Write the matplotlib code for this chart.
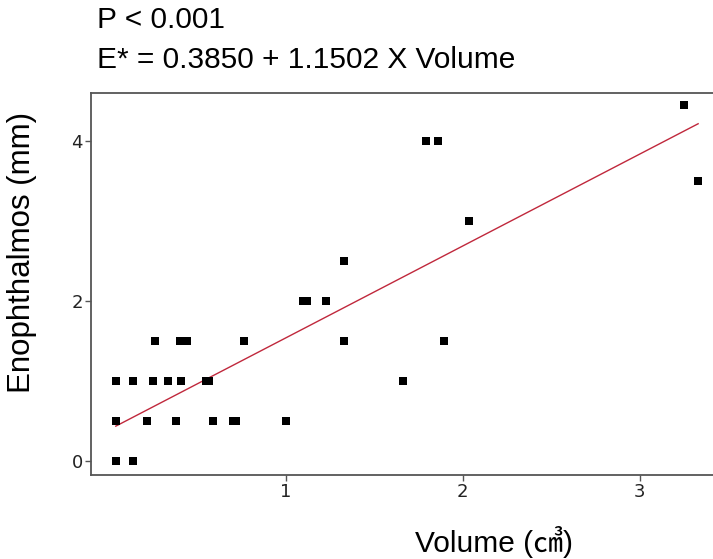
import matplotlib
matplotlib.use("Agg")
import matplotlib.pyplot as plt
import numpy as np

# volume (cm3) vs enophthalmos (mm)
volume = [0.04, 0.135,
          0.04, 0.215, 0.38, 0.59, 0.70, 0.72, 1.0,
          0.04, 0.14, 0.25, 0.335, 0.41, 0.55, 0.565, 1.66,
          0.26, 0.40, 0.445, 0.765, 1.33, 1.895,
          1.10, 1.12, 1.225,
          1.33,
          2.035,
          3.33,
          1.79, 1.86,
          3.25]
enophthalmos = [0, 0,
                0.5, 0.5, 0.5, 0.5, 0.5, 0.5, 0.5,
                1, 1, 1, 1, 1, 1, 1, 1,
                1.5, 1.5, 1.5, 1.5, 1.5, 1.5,
                2, 2, 2,
                2.5,
                3,
                3.5,
                4, 4,
                4.45]

intercept = 0.3850
slope = 1.1502
xticks = [1, 2, 3]
yticks = [0, 2, 4]

fig = plt.figure(figsize=(7.13, 5.59), dpi=100)
ax = fig.add_axes([91/713, 1-475/559, 1-91/713, (475-93)/559])

ax.scatter(volume, enophthalmos, marker="s", s=34, color="black", linewidths=0, zorder=3)
fit_x = np.array([min(volume), max(volume)])
ax.plot(fit_x, intercept + slope*fit_x, color="#c0283c", lw=1.0, zorder=2)

ax.set_xlim(-0.1, 3.414)
ax.set_ylim(-0.18, 4.60)
ax.set_xticks(xticks)
ax.set_yticks(yticks)
ax.tick_params(direction="out", length=4, width=1, colors="#555555", labelcolor="#222222", labelsize=13, pad=2)
for s in ["left", "top", "bottom"]:
	ax.spines[s].set_color("#555555")
	ax.spines[s].set_linewidth(1.3)
ax.spines["right"].set_visible(False)

fig.text(97/713, 1-20/559, "P < 0.001", fontsize=21.5, family="Liberation Sans", va="center", ha="left")
fig.text(97/713, 1-60/559, "E* = 0.3850 + 1.1502 X Volume", fontsize=21.5, family="Liberation Sans", va="center", ha="left")
fig.text(22/713, 1-252/559, "Enophthalmos (mm)", fontsize=22.5, family="Liberation Sans", rotation=90, va="center", ha="center")
fig.text(494/713, 1-542/559, "Volume (\u33a4)", fontsize=21.5, family=["Liberation Sans", "Noto Sans CJK KR"], va="center", ha="center")

fig.savefig("out.png", dpi=100)
